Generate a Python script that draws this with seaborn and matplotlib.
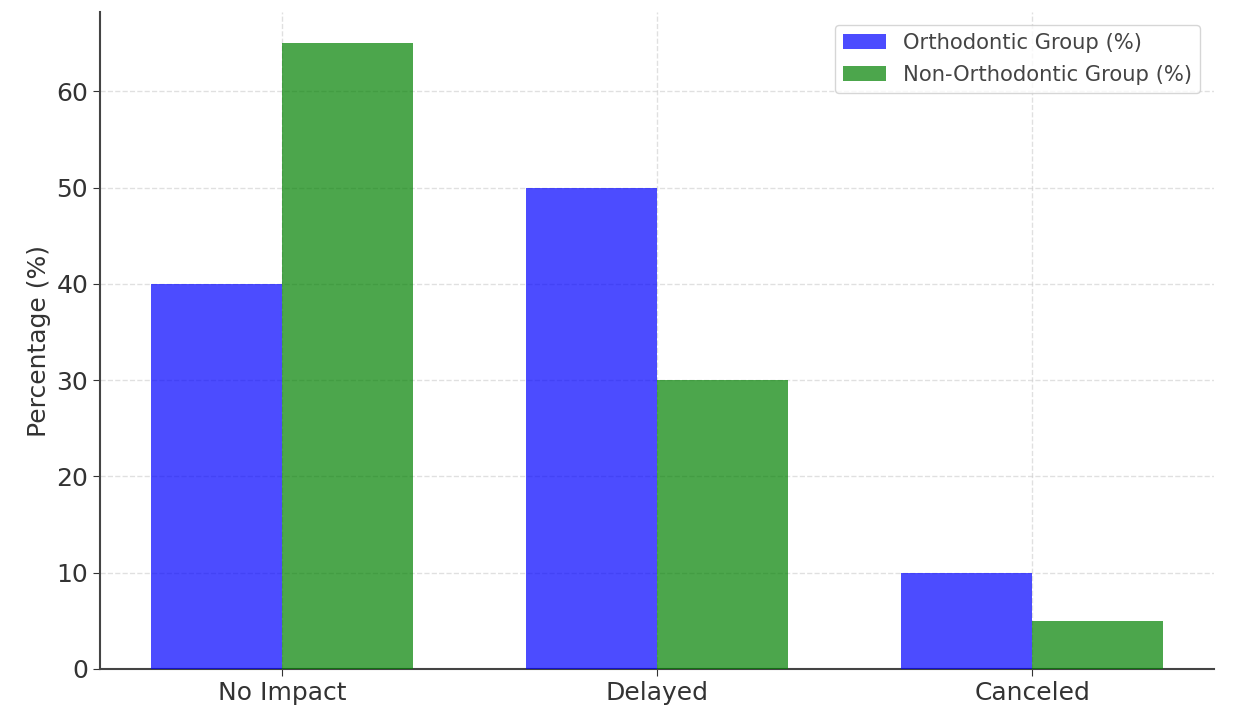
import matplotlib
matplotlib.use("Agg")
import matplotlib.pyplot as plt
import seaborn as sns
import pandas as pd

categories = ["No Impact", "Delayed", "Canceled"]
ortho = [40, 50, 10]
non_ortho = [65, 30, 5]
series_names = ["Orthodontic Group (%)", "Non-Orthodontic Group (%)"]

df = pd.DataFrame({
    "Category": categories * 2,
    "Value": ortho + non_ortho,
    "Group": [series_names[0]] * 3 + [series_names[1]] * 3,
})

sns.set_style("white")
plt.rcParams['font.family'] = ['DejaVu Sans']

fig = plt.figure(figsize=(12.48, 7.11), dpi=100)
ax = fig.add_axes([100/1248, 1 - 669/711, (1214-100)/1248, (669-12)/711])

sns.barplot(data=df, x="Category", y="Value", hue="Group",
            palette=["blue", "green"], alpha=0.7, saturation=1,
            width=0.7, linewidth=0, ax=ax, zorder=3)

ax.set_xlim(-0.485, 2.485)
ax.grid(True, linestyle="--", color="#cccccc", alpha=0.6, linewidth=1, zorder=0)
ax.set_axisbelow(True)
for s in ["top", "right"]:
    ax.spines[s].set_visible(False)
for s in ["left", "bottom"]:
    ax.spines[s].set_color("#444444")
    ax.spines[s].set_linewidth(1.5)
ax.tick_params(axis="both", labelsize=18, colors="#333333", length=5, left=True, bottom=True)
ax.set_xlabel("")
ax.set_ylabel("Percentage (%)", fontsize=18, color="#333333")
leg = ax.legend(loc="upper right", fontsize=15.2, frameon=True,
                labelspacing=0.55, bbox_to_anchor=(0.997, 0.997))
for t in leg.get_texts():
    t.set_color("#444444")

fig.savefig("out.png", dpi=100)
